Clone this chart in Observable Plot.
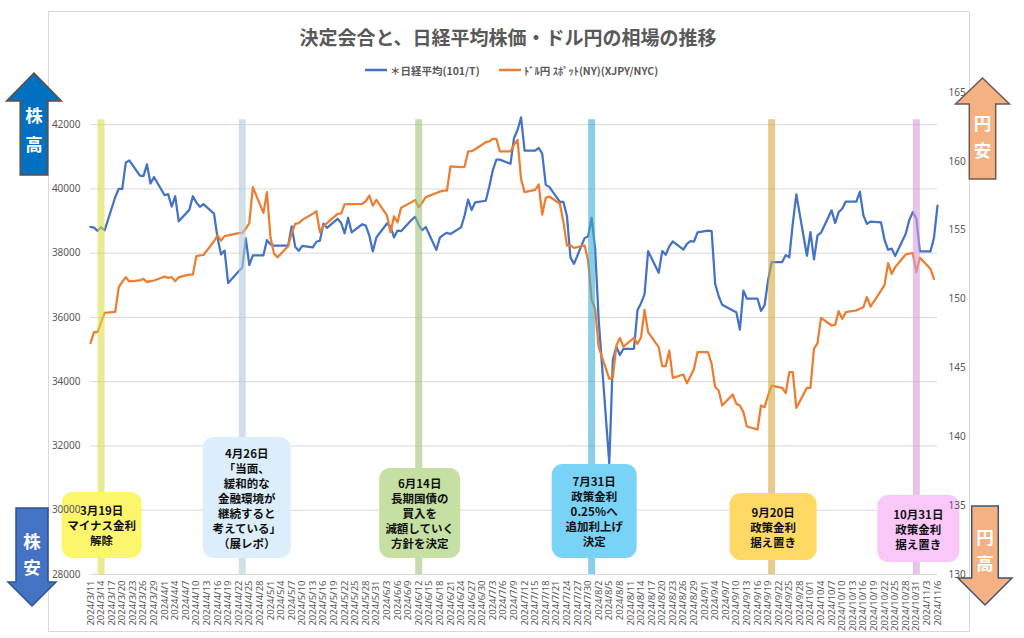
<!DOCTYPE html>
<html><head><meta charset="utf-8">
<script src="https://cdn.jsdelivr.net/npm/d3@7"></script>
<script src="https://cdn.jsdelivr.net/npm/@observablehq/plot@0.6"></script>
<style>
html,body{margin:0;padding:0;background:#fff;}
#chart{width:1024px;height:638px;position:relative;}
</style></head><body><div id="chart"></div>
<script>
// ---------------- DATA ----------------
const tradeDates = [
 "3/11","3/12","3/13","3/14","3/15","3/18","3/19","3/20","3/21","3/22","3/25","3/26","3/27","3/28","3/29",
 "4/1","4/2","4/3","4/4","4/5","4/8","4/9","4/10","4/11","4/12","4/15","4/16","4/17","4/18","4/19","4/22","4/23","4/24","4/25","4/26","4/29","4/30",
 "5/1","5/2","5/3","5/6","5/7","5/8","5/9","5/10","5/13","5/14","5/15","5/16","5/17","5/20","5/21","5/22","5/23","5/24","5/27","5/28","5/29","5/30","5/31",
 "6/3","6/4","6/5","6/6","6/7","6/10","6/11","6/12","6/13","6/14","6/17","6/18","6/19","6/20","6/21","6/24","6/25","6/26","6/27","6/28",
 "7/1","7/2","7/3","7/4","7/5","7/8","7/9","7/10","7/11","7/12","7/15","7/16","7/17","7/18","7/19","7/22","7/23","7/24","7/25","7/26","7/29","7/30","7/31",
 "8/1","8/2","8/5","8/6","8/7","8/8","8/9","8/12","8/13","8/14","8/15","8/16","8/19","8/20","8/21","8/22","8/23","8/26","8/27","8/28","8/29","8/30",
 "9/2","9/3","9/4","9/5","9/6","9/9","9/10","9/11","9/12","9/13","9/16","9/17","9/18","9/19","9/20","9/23","9/24","9/25","9/26","9/27","9/30",
 "10/1","10/2","10/3","10/4","10/7","10/8","10/9","10/10","10/11","10/14","10/15","10/16","10/17","10/18","10/21","10/22","10/23","10/24","10/25","10/28","10/29","10/30","10/31",
 "11/1","11/4","11/5","11/6"
];
// ＊日経平均(101/T)
const nikkeiValues = [
 38820,38797,38696,38807,38708,39740,40004,40004,40816,40888,40414,40398,40763,40168,40369,
 39803,39839,39451,39773,38992,39347,39773,39581,39442,39524,39233,38471,37962,38080,37068,37438,37552,38460,37628,37935,37935,38406,
 38274,38236,38236,38236,38835,38202,38074,38229,38179,38356,38386,38920,38787,39070,38947,38617,39103,38646,38900,38856,38557,38054,38488,
 38923,38837,38490,38703,38683,39038,39134,38876,38720,38815,38102,38482,38570,38633,38596,38804,39173,39667,39341,39583,
 39631,40074,40580,40913,40912,40781,41580,41831,42224,41191,41191,41275,41098,40126,40063,39599,39594,39155,37869,37667,38468,38526,39102,
 38126,35910,31458,34675,35090,34831,35025,35025,36233,36443,36727,38063,37389,38063,37951,38211,38364,38110,38289,38372,38363,38648,
 38701,38686,37048,36658,36392,36216,36159,35620,36833,36582,36582,36204,36380,37155,37724,37724,37940,37871,38926,39830,37920,
 38652,37809,38552,38636,39333,38938,39278,39381,39606,39606,39911,39181,38911,38982,38955,38412,38105,38143,37914,38606,39028,39277,39081,
 38054,38054,38475,39481
];
// ﾄﾞﾙ円 ｽﾎﾟｯﾄ(NY)(XJPY/NYC)
const usdjpyValues = [
 146.80,147.60,147.60,148.30,149.00,149.07,150.86,151.25,151.59,151.28,151.35,151.47,151.23,151.30,151.35,
 151.64,151.54,151.59,151.30,151.59,151.78,151.78,153.12,153.17,153.20,154.20,154.62,154.25,154.57,154.62,154.79,154.80,155.10,155.51,158.13,156.26,157.76,
 154.49,153.30,153.04,153.84,154.80,155.46,155.51,155.75,156.20,156.38,154.86,155.30,155.51,156.19,156.20,156.87,156.90,156.90,156.92,157.10,157.52,156.79,157.20,
 156.07,154.86,156.00,155.58,156.63,157.04,157.20,156.67,157.00,157.40,157.70,157.80,157.88,157.88,159.63,159.58,159.60,160.72,160.74,160.88,
 161.39,161.45,161.64,161.64,160.72,160.72,161.20,161.56,158.73,157.76,157.93,158.32,156.14,157.35,157.45,156.92,155.60,153.89,153.89,153.72,153.89,152.80,149.94,
 149.29,146.51,144.21,144.30,146.63,147.18,146.55,147.18,146.75,147.23,149.22,147.60,146.51,145.13,145.13,146.26,144.28,144.52,143.89,144.40,144.93,146.14,
 146.14,145.30,143.60,143.36,142.27,143.07,142.39,142.27,141.79,140.75,140.53,142.27,142.15,143.00,143.72,143.55,143.17,144.69,144.69,142.10,143.55,
 143.55,146.38,146.80,148.64,148.08,148.13,149.12,148.56,149.05,149.17,149.30,149.41,150.14,149.46,150.62,151.03,152.61,151.83,152.32,153.24,153.30,153.33,151.95,
 153.00,152.20,151.47,null
];
const xTickLabels = [
 "3/11","3/14","3/17","3/20","3/23","3/26","3/29",
 "4/1","4/4","4/7","4/10","4/13","4/16","4/19","4/22","4/25","4/28",
 "5/1","5/4","5/7","5/10","5/13","5/16","5/19","5/22","5/25","5/28","5/31",
 "6/3","6/6","6/9","6/12","6/15","6/18","6/21","6/24","6/27","6/30",
 "7/3","7/6","7/9","7/12","7/15","7/18","7/21","7/24","7/27","7/30",
 "8/2","8/5","8/8","8/11","8/14","8/17","8/20","8/23","8/26","8/29",
 "9/1","9/4","9/7","9/10","9/13","9/16","9/19","9/22","9/25","9/28",
 "10/1","10/4","10/7","10/10","10/13","10/16","10/19","10/22","10/25","10/28","10/31",
 "11/3","11/6"
];
const leftTicks = [28000,30000,32000,34000,36000,38000,40000,42000];
const rightTicks = [130,135,140,145,150,155,160,165];
const bandDates = ["3/14","4/23","6/12","7/31","9/20","10/31"];
const eventTexts = [
 ["3月19日","マイナス金利","解除"],
 ["4月26日","「当面、","緩和的な","金融環境が","継続すると","考えている」","（展レポ）"],
 ["6月14日","長期国債の","買入を","減額していく","方針を決定"],
 ["7月31日","政策金利","0.25％へ","追加利上げ","決定"],
 ["9月20日","政策金利","据え置き"],
 ["10月31日","政策金利","据え置き"]
];
const titleText = "決定会合と、日経平均株価・ドル円の相場の推移";
const seriesNames = ["＊日経平均(101/T)", "ﾄﾞﾙ円 ｽﾎﾟｯﾄ(NY)(XJPY/NYC)"];
const arrowWords = [["株","高"],["株","安"],["円","安"],["円","高"]];

// ---------------- STYLE / LAYOUT ----------------
const W = 1024, H = 638;
const bandColors = ["#dcdc48","#b3c9d8","#9cc27a","#3aaed3","#d3aa40","#d69bdb"];
const boxFills = ["#fbf66c","#dcedfb","#c6e0a4","#78d3f6","#ffd966","#f9c8f9"];
const boxOffsets = [1,5,1.5,3,2,2.5];
const boxWidths = [80,88,81,85,87,82];
const boxTops = [492,437,468,464,493,495];
const boxBottoms = [558,558,558,558,560,562];
const CJK = "'Noto Sans CJK JP','Noto Sans',sans-serif";

const parseDate = s => { const [m, d] = s.split("/").map(Number); return new Date(Date.UTC(2024, m - 1, d)); };
const yenToLeft = v => 28000 + (v - 130) * (15000 / 35);
const leftToYen = v => 130 + (v - 28000) * (35 / 15000);

const series = tradeDates.map((s, i) => ({date: parseDate(s), nikkei: nikkeiValues[i], usdjpy: usdjpyValues[i]}));

const chart = Plot.plot({
  width: W, height: H,
  marginLeft: 90, marginRight: 87, marginTop: 92, marginBottom: 64,
  style: {fontFamily: "'Noto Sans',sans-serif", color: "#595959", background: "#fff"},
  x: {type: "utc", domain: [parseDate("3/11"), parseDate("11/6")], label: null},
  y: {domain: [28000, 43000], label: null},
  marks: [
    Plot.ruleY(leftTicks, {stroke: "#d9d9d9", strokeWidth: 1}),
    Plot.line(series, {x: "date", y: "nikkei", stroke: "#4472c4", strokeWidth: 2.25, strokeLinejoin: "round"}),
    Plot.line(series.filter(d => d.usdjpy != null), {x: "date", y: d => yenToLeft(d.usdjpy), stroke: "#ed7d31", strokeWidth: 2.25, strokeLinejoin: "round"}),
    ...bandDates.map((d, i) => Plot.ruleX([parseDate(d)], {y1: 28000, y2: 42150, stroke: bandColors[i], strokeWidth: 7, strokeOpacity: 0.6, ariaLabel: "band"})),
    Plot.axisX({ticks: xTickLabels.map(parseDate), tickFormat: d => `2024/${d.getUTCMonth() + 1}/${d.getUTCDate()}`, tickRotate: -90, tickSize: 0, tickPadding: 6, fontSize: 9.5, label: null}),
    Plot.axisY({ticks: leftTicks, tickFormat: d3.format("d"), tickSize: 0, tickPadding: 10, fontSize: 10, label: null}),
    Plot.axisY({anchor: "right", ticks: rightTicks.map(yenToLeft), tickFormat: v => String(Math.round(leftToYen(v))), tickSize: 0, tickPadding: 11, fontSize: 10, label: null})
  ]
});
document.getElementById("chart").append(chart);

const svg = d3.select(chart);
const xs = chart.scale("x");

// blur filter for the vertical bands
const defs = svg.insert("defs", ":first-child");
defs.append("filter").attr("id", "bandBlur").attr("x", "-50%").attr("width", "200%")
  .append("feGaussianBlur").attr("stdDeviation", 0.9);
svg.selectAll('g[aria-label="band"]').attr("filter", "url(#bandBlur)");

// chart border
svg.insert("rect", ":first-child").attr("x", 48.5).attr("y", 11.5).attr("width", 921).attr("height", 620)
  .attr("fill", "none").attr("stroke", "#d9d9d9");

// annotation boxes (under the bands)
const boxLayer = svg.insert("g", 'g[aria-label="band"]');
eventTexts.forEach((lines, i) => {
  const cx = xs.apply(parseDate(bandDates[i])) + boxOffsets[i];
  const w = boxWidths[i], t = boxTops[i], b = boxBottoms[i];
  boxLayer.append("rect").attr("x", cx - w / 2).attr("y", t).attr("width", w).attr("height", b - t)
    .attr("rx", 11).attr("fill", boxFills[i]);
  const cy = (t + b) / 2, n = lines.length;
  lines.forEach((s, j) => {
    boxLayer.append("text").attr("x", cx).attr("y", cy + (j - (n - 1) / 2) * 15)
      .attr("text-anchor", "middle").attr("dominant-baseline", "central")
      .attr("font-family", CJK).attr("font-size", 11.5).attr("font-weight", 700).attr("fill", "#111").text(s);
  });
});

// keep axis tick labels on top of the boxes
svg.selectAll('g[aria-label$="tick label"]').raise();

// title
svg.append("text").attr("x", 508).attr("y", 36).attr("text-anchor", "middle").attr("dominant-baseline", "central")
  .attr("font-family", CJK).attr("font-size", 19).attr("font-weight", 700).attr("fill", "#595959").text(titleText);

// legend
const legendItems = [{x: 365, c: "#4472c4"}, {x: 499, c: "#ed7d31"}];
legendItems.forEach((it, i) => {
  svg.append("line").attr("x1", it.x).attr("x2", it.x + 22).attr("y1", 70).attr("y2", 70)
    .attr("stroke", it.c).attr("stroke-width", 2.5);
  svg.append("text").attr("x", it.x + 25).attr("y", 70).attr("text-anchor", "start").attr("dominant-baseline", "central")
    .attr("font-family", CJK).attr("font-size", 10.5).attr("font-weight", 700).attr("fill", "#595959").text(seriesNames[i]);
});

// arrows
function arrow(cx, up, yTop, yBase, yEnd, shaftHalf, headHalf, fill, stroke, chars, charYs) {
  let pts;
  if (up) {
    pts = [[cx, yTop], [cx + headHalf, yBase], [cx + shaftHalf, yBase], [cx + shaftHalf, yEnd], [cx - shaftHalf, yEnd], [cx - shaftHalf, yBase], [cx - headHalf, yBase]];
  } else {
    pts = [[cx - shaftHalf, yTop], [cx + shaftHalf, yTop], [cx + shaftHalf, yBase], [cx + headHalf, yBase], [cx, yEnd], [cx - headHalf, yBase], [cx - shaftHalf, yBase]];
  }
  svg.append("polygon").attr("points", pts.map(p => p.join(",")).join(" "))
    .attr("fill", fill).attr("stroke", stroke).attr("stroke-width", 1.5);
  chars.forEach((ch, k) => {
    svg.append("text").attr("x", cx).attr("y", charYs[k]).attr("text-anchor", "middle").attr("dominant-baseline", "central")
      .attr("font-family", CJK).attr("font-size", 17.5).attr("font-weight", 700).attr("fill", "#fff").text(ch);
  });
}
arrow(34, true, 73, 101, 175, 13.8, 27.5, "#0070c0", "#6b4a3a", arrowWords[0], [114, 143]);
arrow(32, false, 508, 582, 606, 16, 24, "#4472c4", "#2f528f", arrowWords[1], [540, 566]);
arrow(982.5, true, 78, 104, 179, 13.2, 27, "#f4b183", "#6e5a50", arrowWords[2], [122, 149]);
arrow(985, false, 506, 578, 605, 13.3, 27, "#f4b183", "#44546a", arrowWords[3], [536, 562]);
</script>
</body></html>
